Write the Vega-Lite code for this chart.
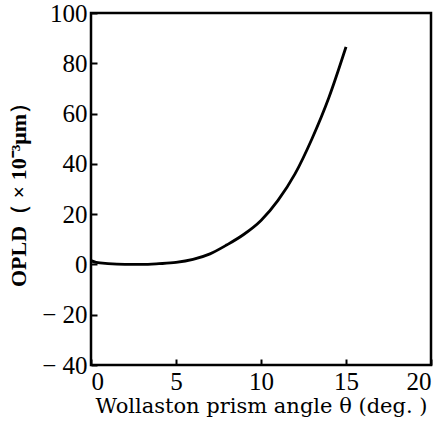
{
  "$schema": "https://vega.github.io/schema/vega-lite/v6.json",
  "width": 340,
  "height": 352,
  "autosize": "none",
  "padding": {"left": 91, "top": 13, "right": 15, "bottom": 56},
  "background": "white",
  "config": {
    "view": {"stroke": "black", "strokeWidth": 2.5},
    "font": "Liberation Serif"
  },
  "data": {
    "values": [
      {"theta": 0, "opld": 1.5},
      {"theta": 0.3, "opld": 0.8},
      {"theta": 1, "opld": 0.3},
      {"theta": 2, "opld": 0},
      {"theta": 3, "opld": 0},
      {"theta": 4, "opld": 0.3},
      {"theta": 5, "opld": 0.8},
      {"theta": 6, "opld": 2},
      {"theta": 7, "opld": 4.2},
      {"theta": 8, "opld": 7.8},
      {"theta": 9, "opld": 12},
      {"theta": 10, "opld": 17.5},
      {"theta": 11, "opld": 25.5},
      {"theta": 12, "opld": 36},
      {"theta": 13, "opld": 50},
      {"theta": 14, "opld": 66.5},
      {"theta": 15, "opld": 86.5}
    ]
  },
  "mark": {"type": "line", "color": "black", "strokeWidth": 2.8, "interpolate": "monotone"},
  "encoding": {
    "x": {
      "field": "theta", "type": "quantitative",
      "scale": {"domain": [0, 20], "nice": false, "zero": false},
      "axis": {
        "values": [0, 5, 10, 15, 20], "grid": false, "domain": false,
        "tickSize": -6, "tickWidth": 2, "tickColor": "black",
        "labelPadding": 10, "labelFontSize": 25, "labelColor": "black", "labelFont": "Liberation Serif",
        "title": "Wollaston prism angle θ (deg. )", "titleFontSize": 21, "titleFontWeight": "normal",
        "titleColor": "black", "titleFont": "DejaVu Serif", "titlePadding": 1
      }
    },
    "y": {
      "field": "opld", "type": "quantitative",
      "scale": {"domain": [-40, 100], "nice": false, "zero": false},
      "axis": {
        "values": [-40, -20, 0, 20, 40, 60, 80, 100], "grid": false, "domain": false,
        "tickSize": -6, "tickWidth": 2, "tickColor": "black",
        "labelPadding": 10, "labelFontSize": 25, "labelColor": "black", "labelFont": "Liberation Serif",
        "labelExpr": "datum.value < 0 ? '− ' + abs(datum.value) : datum.label",
        "title": "OPLD（ × 10⁻³μm）", "titleFontSize": 22, "titleFontWeight": "bold",
        "titleColor": "black", "titleFont": "Liberation Serif", "titlePadding": 11
      }
    }
  }
}
